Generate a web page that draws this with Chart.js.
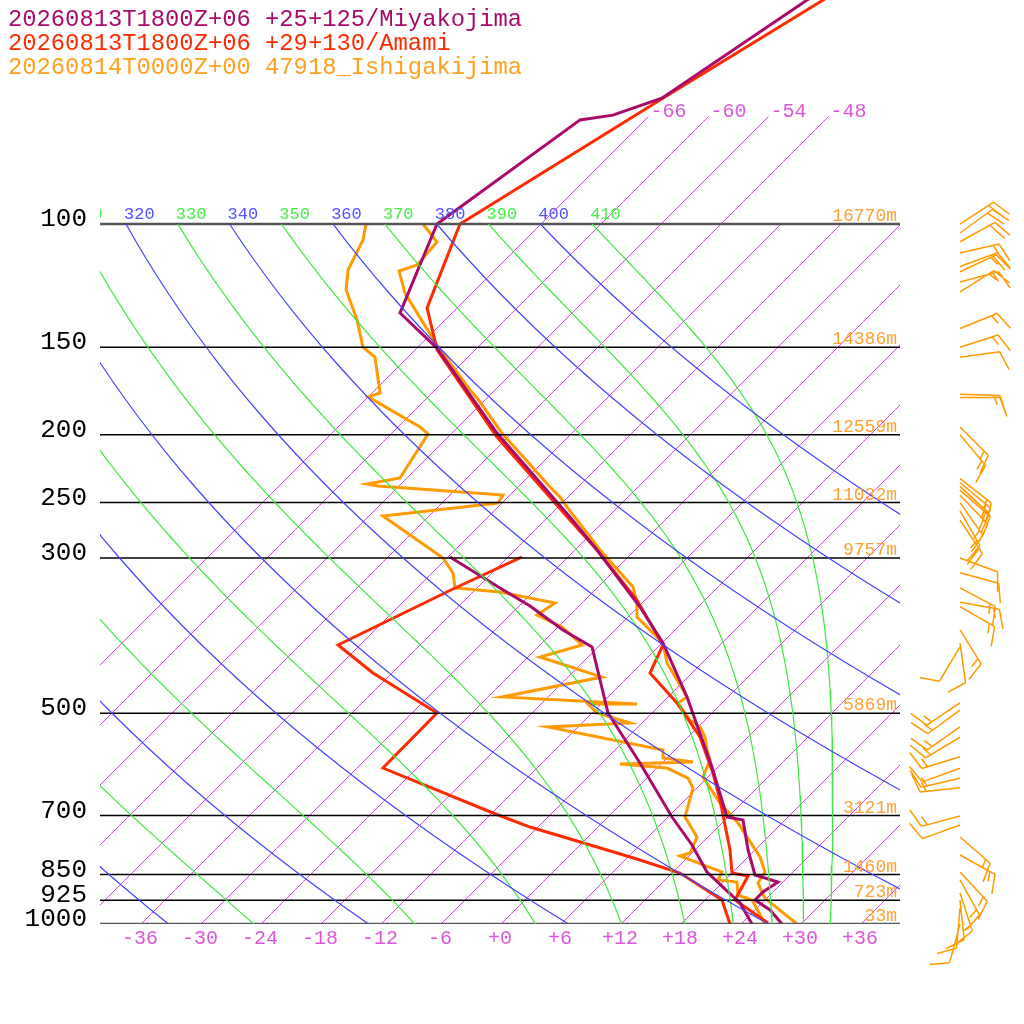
<!DOCTYPE html>
<html>
<head>
<meta charset="utf-8">
<script src="https://cdn.jsdelivr.net/npm/chart.js@4.4.1/dist/chart.umd.min.js"></script>
<style>
html, body { margin: 0; padding: 0; background: #fff; }
#wrap { width: 1024px; height: 1024px; position: relative; }
</style>
</head>
<body>
<div id="wrap"><canvas id="myChart"></canvas></div>
<script>
// skew-T log-p diagram, three soundings

const FONT = '"Liberation Mono", monospace';
const SKEW = 30.4;      // isotherm shift (degC) per e-fold of pressure -> 45 deg lines
const P_TOP = 47.86;    // pressure at the top edge of the plot
const KAPPA = 0.2857;

// colours
const MIYAKO_COLOR = '#aa0a6a';
const AMAMI_COLOR = '#ff2a00';
const ISHI_COLOR = '#ff9a00';
const ISO_COLOR = '#dd44ee';

// legend lines
const legendText = [
    '20260813T1800Z+06 +25+125/Miyakojima',
    '20260813T1800Z+06 +29+130/Amami',
    '20260814T0000Z+00 47918_Ishigakijima'
];

// Miyakojima (hPa, degC)
const miyakoP = [44.8, 47.9, 66.1, 69.9, 71.0, 100, 134, 150.4, 198.9, 262.2, 292.2, 352.5, 396.8, 473.9, 596.7, 703.3, 710.2, 783.9, 851.1, 871, 900.2, 924.1, 954.9, 1000];
const miyakoT = [-60.7, -61.7, -66.4, -69.6, -72.4, -76.3, -71.1, -63.9, -49.4, -33.7, -27.7, -17.7, -11.8, -4.0, 5.5, 12.0, 13.9, 17.4, 20.6, 23.6, 23.1, 23.1, 25.6, 28.2];
const miyakoDewP = [299, 331.1, 351.3, 380.2, 402, 499.5, 588.9, 703.3, 771.1, 842.8, 885.5, 933.2, 1000];
const miyakoTd = [-41.7, -33.6, -28.8, -23.1, -18.5, -10.3, -2.1, 6.5, 11.3, 15.5, 18.6, 21.9, 25.2];

// Amami
const amamiP = [44.8, 47.9, 66.5, 100, 131.8, 151.3, 201.5, 264.8, 292.2, 344.5, 399.4, 438, 483.4, 540.6, 608.6, 665, 783.9, 845.6, 853.9, 924.1, 996.7];
const amamiT = [-58.8, -60.1, -66.4, -74.0, -68.9, -63.7, -49.0, -33.4, -27.7, -18.7, -11.6, -10.1, -4.4, 1.3, 6.2, 9.6, 15.6, 18.1, 20.0, 21.1, 26.7];
const amamiDewP = [299, 332.2, 399.4, 438, 499.5, 598.7, 694.1, 726.9, 783.9, 810.2, 845.6, 924.1, 1000];
const amamiTd = [-34.5, -38.2, -44.1, -37.8, -27.4, -27.3, -11.8, -6.7, 3.3, 7.6, 12.9, 19.8, 23.0];

// Ishigakijima
const ishiP = [100, 106.1, 108.9, 114.4, 116.7, 125.5, 148.9, 172.6, 177.2, 198.9, 237.5, 245.5, 254.6, 292.2, 330, 347.9, 364.3, 396.8, 423.8, 473.9, 483.4, 511.2, 523.1, 540.6, 564.2, 583.1, 616.7, 671.6, 717.3, 751.1, 802.2, 842.8, 873.9, 918.2, 1000];
const ishiT = [-77.7, -74.5, -74.4, -74.2, -75.4, -72.6, -64.2, -56.4, -54.9, -48.9, -38.7, -36.7, -34.8, -27.4, -20.4, -18.4, -17.0, -11.8, -9.4, -4.0, -4.3, -1.4, 0.3, 1.8, 3.3, 4.6, 5.6, 9.9, 13.7, 16.0, 19.3, 21.3, 21.7, 23.9, 29.7];
const ishiDewP = [100, 105.4, 116.3, 124.2, 137.1, 149.9, 154.9, 174.3, 176.6, 195, 199.5, 230.6, 235.2, 236.8, 243.9, 250.4, 261.3, 300, 315.2, 331.1, 335.5, 347.9, 361.9, 376.4, 399.4, 415.5, 443.8, 473.9, 485, 485, 499.5, 516.3, 523.1, 564.2, 579.3, 587, 590.9, 598.7, 618.7, 639.3, 703.3, 751.1, 791.7, 799.6, 842.8, 865.3, 871, 909.2, 924.1, 1000];
const ishiTd = [-83.4, -82.1, -80.6, -78.8, -74.7, -71.4, -69.2, -65.1, -65.9, -57.7, -56.2, -54.6, -57.3, -56.0, -42.6, -42.3, -52.5, -42.3, -39.8, -38.1, -33.2, -26.6, -27.2, -23.5, -19.7, -22.7, -14.5, -22.5, -8.3, -13.2, -11.4, -7.1, -14.9, -1.1, -0.3, 3.1, -4.0, 1.1, 4.2, 5.7, 7.8, 11.0, 11.9, 11.2, 17.0, 17.4, 19.5, 20.9, 22.8, 26.5];

// Ishigakijima winds (hPa, direction deg, knots)
const windP = [100, 103, 106, 110, 115, 117, 121, 125, 141, 150, 155, 175, 177, 195, 200, 231, 234, 237, 240, 244, 250, 257, 265, 300, 315, 331, 347, 352, 380, 397, 402, 483, 495, 523, 541, 577, 599, 619, 639, 701, 722, 751, 797, 843, 865, 903, 924, 950, 1000];
const windDir = [57, 54, 61, 77, 70, 65, 75, 58, 68, 72, 82, 92, 90, 135, 140, 128, 130, 133, 131, 136, 145, 150, 146, 110, 105, 118, 100, 120, 148, 172, 211, 236, 234, 235, 239, 253, 250, 257, 264, 255, 250, 131, 119, 137, 151, 162, 174, 185, 195];
const windSpd = [20, 20, 20, 15, 20, 15, 15, 15, 15, 15, 10, 15, 10, 15, 15, 15, 15, 15, 15, 15, 15, 15, 20, 10, 10, 15, 15, 15, 15, 10, 10, 15, 15, 15, 15, 15, 10, 15, 15, 15, 10, 15, 15, 15, 15, 15, 10, 10, 10];

// axes
const isobarP = [100, 150, 200, 250, 300, 500, 700, 850, 925, 1000];
const heightLabels = ['16770m', '14386m', '12559m', '11032m', '9757m', '5869m', '3121m', '1460m', '723m', '33m'];
const tempTicks = [-36, -30, -24, -18, -12, -6, 0, 6, 12, 18, 24, 30, 36];
const isoTemps = [-66, -60, -54, -48, -42, -36, -30, -24, -18, -12, -6, 0, 6, 12, 18, 24, 30, 36];
const dryThetas = [240, 260, 280, 300, 320, 340, 360, 380, 400];
const moistThetas = [250, 270, 290, 310, 330, 350, 370, 390, 410];


function skewX(t, p) {
    return t + SKEW * Math.log(1000 / p);
}

function toPoints(pArr, tArr) {
    return pArr.map((p, i) => ({ x: skewX(tArr[i], p), y: p }));
}

// saturation mixing ratio, tk in K, p in hPa
function satMix(tk, p) {
    const es = 6.112 * Math.exp(17.67 * (tk - 273.15) / (tk - 29.65));
    return 0.622 * es / (p - es);
}

// pseudo-adiabatic dT/dp
function dTdp(tk, p) {
    const rs = satMix(tk, p);
    const Lv = 2.501e6;
    return ((287.04 * tk + Lv * rs) / p) / (1005.7 + Lv * Lv * rs * 0.622 / (287.04 * tk * tk));
}

function dryLine(theta) {
    const pts = [];
    for (let i = 0; i <= 40; i++) {
        const p = 100 * Math.pow(10, i / 40);
        pts.push({ x: skewX(theta * Math.pow(p / 1000, KAPPA) - 273.15, p), y: p });
    }
    return pts;
}

function moistLine(theta) {
    let tk = theta * Math.pow(0.1, KAPPA);
    let p = 100;
    const pts = [{ x: skewX(tk - 273.15, p), y: p }];
    const n = 60;
    for (let i = 0; i < n; i++) {
        const p2 = 100 * Math.pow(10, (i + 1) / n);
        const h = p2 - p;
        const k1 = dTdp(tk, p);
        const k2 = dTdp(tk + k1 * h / 2, p + h / 2);
        const k3 = dTdp(tk + k2 * h / 2, p + h / 2);
        const k4 = dTdp(tk + k3 * h, p2);
        tk += h * (k1 + 2 * k2 + 2 * k3 + k4) / 6;
        p = p2;
        pts.push({ x: skewX(tk - 273.15, p), y: p });
    }
    return pts;
}

function lineSet(data, color, width) {
    return {
        data: data,
        borderColor: color,
        backgroundColor: color,
        borderWidth: width,
        showLine: true,
        pointRadius: 0,
        pointHoverRadius: 0,
        fill: false
    };
}


const datasets = [];

dryThetas.forEach((th) => datasets.push(lineSet(dryLine(th), '#4444ff', 1.2)));
moistThetas.forEach((th) => datasets.push(lineSet(moistLine(th), '#3ee83e', 1.2)));
isobarP.forEach((p) => {
    const edge = (p === 100 || p === 1000);
    datasets.push(lineSet([{ x: -40, y: p }, { x: 40, y: p }], edge ? '#555555' : '#000000', edge ? 2.5 : 1.5));
});

datasets.push(lineSet(toPoints(miyakoDewP, miyakoTd), MIYAKO_COLOR, 3));
datasets.push(lineSet(toPoints(miyakoP, miyakoT), MIYAKO_COLOR, 3));
datasets.push(lineSet(toPoints(amamiDewP, amamiTd), AMAMI_COLOR, 3));
datasets.push(lineSet(toPoints(amamiP, amamiT), AMAMI_COLOR, 3));
datasets.push(lineSet(toPoints(ishiDewP, ishiTd), ISHI_COLOR, 3));
datasets.push(lineSet(toPoints(ishiP, ishiT), ISHI_COLOR, 3));


// isotherms, drawn under the datasets through the two scales
const isotherms = {
    id: 'isotherms',
    beforeDatasetsDraw(chart) {
        const ctx = chart.ctx;
        const xs = chart.scales.x;
        const ys = chart.scales.y;
        const area = chart.chartArea;
        ctx.save();
        ctx.beginPath();
        ctx.rect(area.left, area.top, area.right - area.left, area.bottom - area.top);
        ctx.clip();
        ctx.strokeStyle = ISO_COLOR;
        ctx.lineWidth = 1;
        ctx.beginPath();
        isoTemps.forEach((t) => {
            const top = t <= -48 ? 70 : 100;
            const x1 = Math.round(xs.getPixelForValue(skewX(t, top))) + 0.5;
            const y1 = Math.round(ys.getPixelForValue(top)) + 0.5;
            const x2 = Math.round(xs.getPixelForValue(skewX(t, 1000))) + 0.5;
            const y2 = Math.round(ys.getPixelForValue(1000)) + 0.5;
            ctx.moveTo(x1, y1);
            ctx.lineTo(x2, y2);
        });
        ctx.stroke();
        ctx.restore();
    }
};

// texts and wind barbs
const skewtText = {
    id: 'skewtText',
    afterDatasetsDraw(chart) {
        const ctx = chart.ctx;
        const xs = chart.scales.x;
        const ys = chart.scales.y;
        const area = chart.chartArea;
        ctx.save();

        // pressure labels
        ctx.font = '26px ' + FONT;
        ctx.fillStyle = '#000';
        ctx.textAlign = 'right';
        ctx.textBaseline = 'alphabetic';
        isobarP.forEach((p) => ctx.fillText(String(p), 87, ys.getPixelForValue(p) + 2));

        // heights
        ctx.font = '18px ' + FONT;
        ctx.fillStyle = '#ffa030';
        isobarP.forEach((p, i) => ctx.fillText(heightLabels[i], 897, ys.getPixelForValue(p) - 3));

        // temperature ticks
        ctx.font = '20px ' + FONT;
        ctx.fillStyle = '#dd55dd';
        ctx.textAlign = 'center';
        tempTicks.forEach((t) => {
            const s = (t < 0 ? '-' : '+') + Math.abs(t);
            ctx.fillText(s, xs.getPixelForValue(t), 944);
        });

        // isotherm labels at the top ends
        ctx.textAlign = 'left';
        isoTemps.filter((t) => t <= -48).forEach((t) => {
            ctx.fillText(String(t), xs.getPixelForValue(skewX(t, 70)) + 2, ys.getPixelForValue(70) + 1);
        });

        // theta labels on the 100 hPa line
        ctx.beginPath();
        ctx.rect(area.left, 0, area.right - area.left, area.bottom);
        ctx.clip();
        ctx.font = '17px ' + FONT;
        const y100 = ys.getPixelForValue(100) - 5;
        dryThetas.forEach((th) => {
            const x = xs.getPixelForValue(skewX(th * Math.pow(0.1, KAPPA) - 273.15, 100));
            ctx.fillStyle = '#5050ff';
            ctx.fillText(String(th), x - 2, y100);
        });
        moistThetas.forEach((th) => {
            const x = xs.getPixelForValue(skewX(th * Math.pow(0.1, KAPPA) - 273.15, 100));
            ctx.fillStyle = '#44ee44';
            ctx.fillText(String(th), x - 2, y100);
        });
        ctx.restore();

        ctx.save();
        // legend
        ctx.font = '23.8px ' + FONT;
        ctx.textAlign = 'left';
        const legendColors = [MIYAKO_COLOR, AMAMI_COLOR, '#ffa020'];
        legendText.forEach((s, i) => {
            ctx.fillStyle = legendColors[i];
            ctx.fillText(s, 8, 26 + i * 24);
        });

        // wind barbs
        const bx = 960;
        const len = 40;
        ctx.strokeStyle = ISHI_COLOR;
        ctx.lineWidth = 1.5;
        ctx.beginPath();
        windP.forEach((p, i) => {
            const y = ys.getPixelForValue(p);
            const a = windDir[i] * Math.PI / 180;
            const ux = Math.sin(a), uy = -Math.cos(a);
            const tx = bx + ux * len, ty = y + uy * len;
            ctx.moveTo(bx, y);
            ctx.lineTo(tx, ty);
            const fa = Math.atan2(uy, ux) + 70 * Math.PI / 180;
            const fx = Math.cos(fa), fy = Math.sin(fa);
            let spd = windSpd[i];
            let pos = 0;
            while (spd >= 10) {
                const px = tx - ux * pos, py = ty - uy * pos;
                ctx.moveTo(px, py);
                ctx.lineTo(px + fx * 20, py + fy * 20);
                pos += 6;
                spd -= 10;
            }
            if (spd >= 5) {
                const px = tx - ux * pos, py = ty - uy * pos;
                ctx.moveTo(px, py);
                ctx.lineTo(px + fx * 10, py + fy * 10);
            }
        });
        ctx.stroke();
        ctx.restore();
    }
};


const config = {
    type: 'scatter',
    data: { datasets: datasets },
    options: {
        responsive: true,
        maintainAspectRatio: false,
        animation: false,
        layout: { padding: { left: 100, right: 124, top: 0, bottom: 100 } },
        plugins: {
            legend: { display: false },
            tooltip: { enabled: false }
        },
        elements: { line: { tension: 0 } },
        scales: {
            x: { type: 'linear', min: -40, max: 40, display: false },
            y: { type: 'logarithmic', min: P_TOP, max: 1000, reverse: true, display: false }
        }
    },
    plugins: [isotherms, skewtText]
};

var ctx = document.getElementById('myChart').getContext('2d');
var myChart = new Chart(ctx, config);
</script>
</body>
</html>
